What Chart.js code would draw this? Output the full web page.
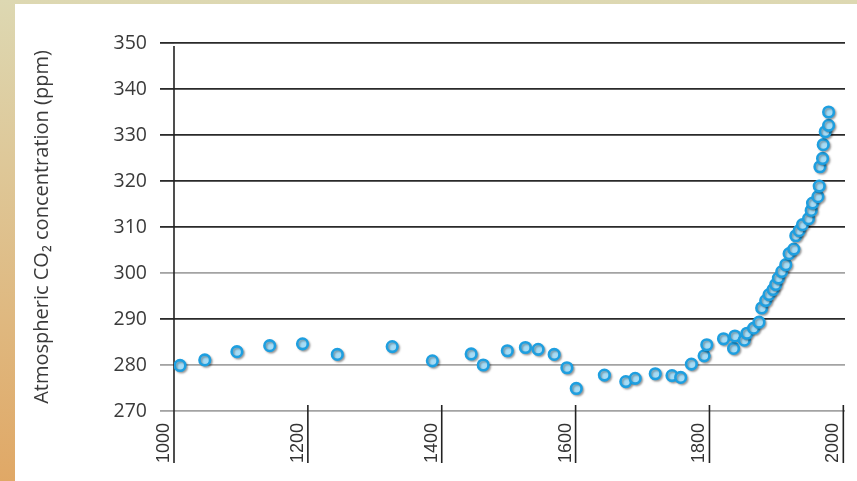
<!DOCTYPE html>
<html>
<head>
<meta charset="utf-8">
<script src="https://cdn.jsdelivr.net/npm/chart.js@4/dist/chart.umd.min.js"></script>
<style>
  html,body{margin:0;padding:0;}
  body{width:857px;height:481px;overflow:hidden;background:linear-gradient(to bottom,#ddd8b2,#e0a866);position:relative;}
  #panel{position:absolute;left:15px;top:4px;right:0;bottom:0;background:#fff;}
  #chart{position:absolute;left:0;top:0;}
</style>
</head>
<body>
<div id="panel"></div>
<canvas id="chart" width="857" height="481"></canvas>
<script>
// values
const years=[1009,1046,1094,1143,1192,1244,1326,1386,1444,1462,1498,1525,1544,1568,1587,1601,1643,1675,1689,1719,1744,1757,1773,1792,1796,
  1821,1836,1838,1852,1856,1866,1874,1878,1884,1889,1895,1899,1903,1908,1914,1919,1926,1929,1934,1939,1948,1952,1954,1962,1964,1965,1969,1970,1973,1978,1978]
const ppm=[279.9,281.1,282.9,284.2,284.6,282.3,284.0,280.9,282.4,280.0,283.1,283.8,283.4,282.3,279.4,274.9,277.8,276.4,277.1,278.1,277.7,277.3,280.2,282.0,284.4,
  285.7,283.6,286.3,285.4,286.9,288.0,289.3,292.4,294.0,295.3,296.4,297.5,298.9,300.3,301.8,304.2,305.2,308.1,309.2,310.5,311.8,313.6,315.2,316.6,318.9,323.1,324.9,327.9,330.7,332.1,335.0]
const yearTicks=[1000,1200,1400,1600,1800,2000]
const grayLines=[270,280,300]

const points=years.map((y,i)=>({x:y,y:ppm[i]}))

const tickLines={
  id:'tickLines',
  beforeDatasetsDraw(chart){
    const ctx=chart.ctx
    const xs=chart.scales.x
    ctx.save()
    ctx.strokeStyle="#222"
    ctx.lineWidth=1.6
    yearTicks.forEach(t=>{
      const px=xs.getPixelForValue(t)
      ctx.beginPath()
      ctx.moveTo(px,t===1000?46:405)
      ctx.lineTo(px,463)
      ctx.stroke()
    })
    ctx.restore()
    ctx.save()
    ctx.shadowColor="rgba(0,0,0,0.3)"
    ctx.shadowBlur=2
    ctx.shadowOffsetX=1.5
    ctx.shadowOffsetY=1.5
  },
  afterDatasetsDraw(chart){
    chart.ctx.restore()
  }
}

new Chart(document.getElementById("chart"),{
  type:'scatter',
  data:{
    datasets:[{
      label:"CO2",
      data:points,
      pointRadius:5.3,
      pointBorderWidth:2.6,
      borderColor:"#1e9fe0",
      backgroundColor:"#a6dcf6",
      pointHoverRadius:5.3
    }]
  },
  options:{
    responsive:false,
    animation:false,
    devicePixelRatio:1,
    layout:{padding:{top:43,right:12,left:0,bottom:0}},
    plugins:{legend:{display:false},tooltip:{enabled:false}},
    scales:{
      x:{
        type:'linear',
        min:1000,
        max:2002.5,
        afterBuildTicks(scale){ scale.ticks=yearTicks.map(v=>({value:v})) },
        afterFit(scale){ scale.height=70; scale.paddingLeft=0; scale.paddingRight=0 },
        grid:{display:false,drawTicks:false},
        border:{display:false},
        ticks:{
          minRotation:90,maxRotation:90,
          padding:12,
          labelOffset:-10,
          color:"#333",
          font:{family:"Liberation Sans",size:18},
          callback:v=>String(v)
        }
      },
      y:{
        min:270,
        max:350,
        afterFit(scale){ scale.width=174; scale.paddingTop=0; scale.paddingBottom=0 },
        grid:{
          color:c=>grayLines.includes(c.tick&&c.tick.value)?"#a3a3a3":"#2a2a2a",
          lineWidth:1.8,
          tickLength:14
        },
        border:{display:false},
        ticks:{
          stepSize:10,
          padding:13,
          color:"#3a3a3a",
          font:{family:"Open Sans",size:19.5}
        },
        title:{
          display:true,
          text:"Atmospheric CO\u2082 concentration (ppm)",
          color:"#3a3a3a",
          font:{family:"Open Sans",size:20},
          padding:{top:30,bottom:0}
        }
      }
    }
  },
  plugins:[tickLines]
})
</script>
</body>
</html>
